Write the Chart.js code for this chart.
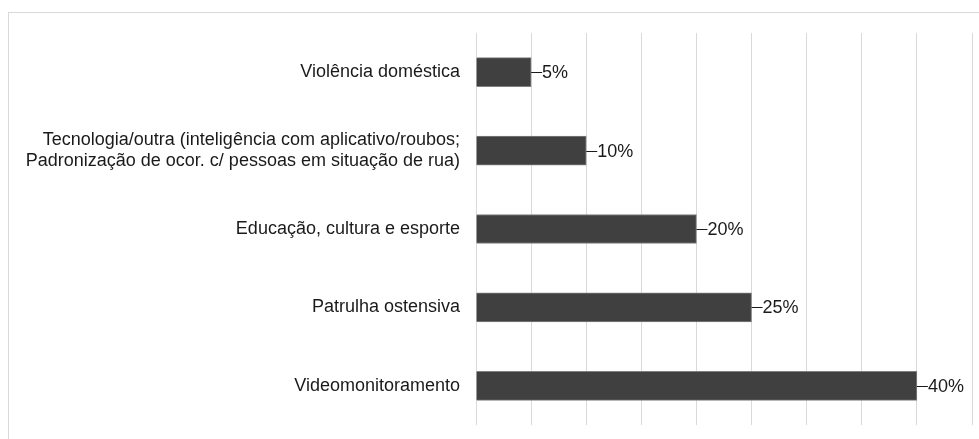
<!DOCTYPE html>
<html lang="pt">
<head>
<meta charset="UTF-8">
<title>Ações</title>
<script src="https://cdn.jsdelivr.net/npm/chart.js"></script>
<style>
  html, body { margin: 0; padding: 0; background: #fff; overflow: hidden; }
  #wrap { position: relative; width: 979px; height: 439px; }
  #frame { position: absolute; left: 8px; top: 12px; width: 990px; height: 450px; border: 1px solid #d9d9d9; box-sizing: border-box; }
  canvas { position: absolute; left: 0; top: 0; }
</style>
</head>
<body>
<div id="wrap">
  <div id="frame"></div>
  <canvas id="chart" width="979" height="439"></canvas>
</div>
<script>
// categorias (de cima para baixo)
const categories = [
  'Violência doméstica',
  ['Tecnologia/outra (inteligência com aplicativo/roubos;', 'Padronização de ocor. c/ pessoas em situação de rua)'],
  'Educação, cultura e esporte',
  'Patrulha ostensiva',
  'Videomonitoramento'
];
const values = [5, 10, 20, 25, 40];
const valueLabels = ['5%', '10%', '20%', '25%', '40%'];
const axisMax = 45;
const axisStep = 5;

// rótulo com pequena linha de chamada ao fim de cada barra
const leaderLabels = {
  id: 'leaderLabels',
  afterDatasetsDraw(chart) {
    const ctx = chart.ctx;
    const meta = chart.getDatasetMeta(0);
    ctx.save();
    ctx.font = '18px "Liberation Sans", Arial, sans-serif';
    ctx.fillStyle = '#1a1a1a';
    ctx.strokeStyle = '#1a1a1a';
    ctx.lineWidth = 1;
    ctx.textBaseline = 'middle';
    meta.data.forEach((bar, i) => {
      const y = Math.round(bar.y) + 0.5;
      ctx.beginPath();
      ctx.moveTo(bar.x, y);
      ctx.lineTo(bar.x + 11, y);
      ctx.stroke();
      ctx.fillText(valueLabels[i], bar.x + 11, bar.y + 1);
    });
    ctx.restore();
  }
};

new Chart(document.getElementById('chart').getContext('2d'), {
  type: 'bar',
  data: {
    labels: categories,
    datasets: [{
      data: values,
      backgroundColor: '#404040',
      borderColor: '#7f7f7f',
      borderWidth: 1,
      barThickness: 29
    }]
  },
  options: {
    indexAxis: 'y',
    responsive: false,
    animation: false,
    layout: { padding: { left: 0, right: 7, top: 33, bottom: 14 } },
    plugins: { legend: { display: false }, tooltip: { enabled: false } },
    scales: {
      x: {
        min: 0,
        max: axisMax,
        afterFit(scale) { scale.height = 0; },
        ticks: { display: false, stepSize: axisStep },
        grid: { color: '#d9d9d9', lineWidth: 1, drawTicks: false },
        border: { display: false }
      },
      y: {
        afterFit(scale) {
          scale.width = 476;
          // sem folga extra acima/abaixo por causa dos rótulos
          scale.paddingTop = 0;
          scale.paddingBottom = 0;
        },
        ticks: {
          color: '#1a1a1a',
          padding: 16,
          font: { family: '"Liberation Sans", Arial, sans-serif', size: 18, lineHeight: 1.17 }
        },
        grid: { display: false, drawTicks: false },
        border: { display: false }
      }
    }
  },
  plugins: [leaderLabels]
});
</script>
</body>
</html>
